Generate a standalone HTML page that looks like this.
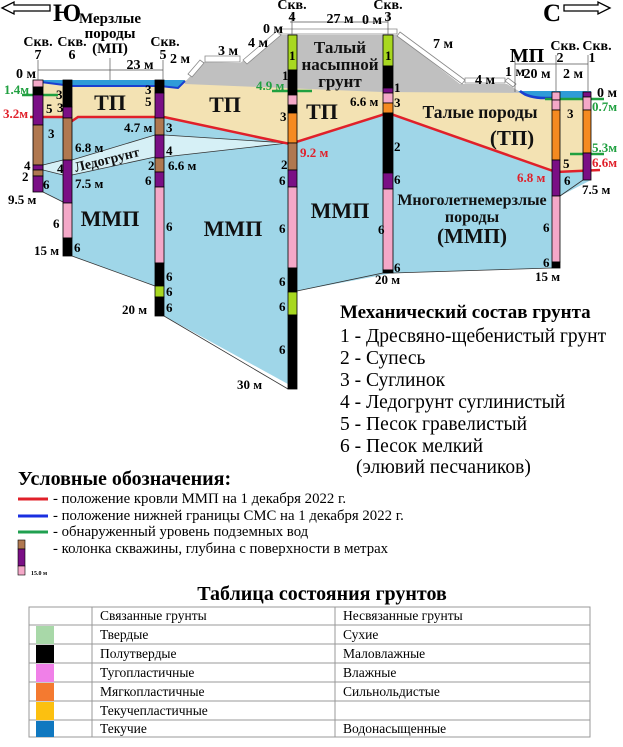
<!DOCTYPE html>
<html><head><meta charset="utf-8"><style>
html,body{margin:0;padding:0;background:#fff}
svg{display:block}
text{font-family:"Liberation Serif","Noto Serif CJK SC",serif}
.b{font-weight:bold}
</style></head><body>
<svg width="623" height="747" viewBox="0 0 623 747" xmlns="http://www.w3.org/2000/svg">
<path d="M2,8 L14,2 L14,5 L50,5 L50,11 L14,11 L14,14 Z" fill="#fff" stroke="#000" stroke-width="1.3"/>
<text x="53" y="21" class="b" font-size="25">Ю</text>
<text x="543" y="21" class="b" font-size="25">С</text>
<path d="M610,8 L598,2 L598,5 L564,5 L564,11 L598,11 L598,14 Z" fill="#fff" stroke="#000" stroke-width="1.3"/>

<polygon points="33,117 63,117 66,121 72,121 78,117 164,117 290,144 388,113 556,172 591,170 591,180 560,196 560,268 393,273 297,291 297,389 164,316 164,286 155,286 72,256 63,202 43,192 33,192" fill="#9fd6e8"/>
<polygon points="33,80 185,80 520,93 591,95 591,170 556,172 388,113 290,144 164,117 78,117 72,121 66,121 63,117 33,117" fill="#f3e2b3"/>
<polygon points="185,82 203,62 240,63 280,35 397,35 460,84 507,84 522,93 383,92 185,84" fill="#c0c0c0"/>
<polygon points="43,165 63,160 72,160 155,135 164,135 288,143 164,157 155,157 72,175 63,175 43,170" fill="#d6f0f6" stroke="#333" stroke-width="0.8"/>
<polyline points="43,192 63,202" fill="none" stroke="#333" stroke-width="0.8"/>
<polyline points="72,256 155,286" fill="none" stroke="#333" stroke-width="0.8"/>
<polyline points="164,316 288,389" fill="none" stroke="#333" stroke-width="0.8"/>
<polyline points="297,291 383,273" fill="none" stroke="#333" stroke-width="0.8"/>
<polyline points="393,273 552,268" fill="none" stroke="#333" stroke-width="0.8"/>
<polyline points="560,196 583,180" fill="none" stroke="#333" stroke-width="0.8"/>
<path d="M33,80 L185,80 L178,88 L160,86 L72,86 L33,81 Z" fill="#2f9bd8"/>
<path d="M33,81 L72,86 L160,86 L178,88 L185,81" fill="none" stroke="#1a3fd0" stroke-width="2"/>
<path d="M518,91 L591,91 L591,98 L540,98 L525,96 Z" fill="#2f9bd8"/>
<path d="M520,91 Q528,98 545,98 L560,98" fill="none" stroke="#1a3fd0" stroke-width="2.5"/>
<polyline points="30,117 63,117 66,121 72,121 78,117 164,117 290,144 388,113 556,172 600,170" fill="none" stroke="#e0202a" stroke-width="2.5"/>
<line x1="22" y1="95" x2="58" y2="95" stroke="#20a040" stroke-width="2.5"/>
<line x1="272" y1="91" x2="312" y2="91" stroke="#20a040" stroke-width="2.5"/>
<line x1="545" y1="99" x2="604" y2="99" stroke="#20a040" stroke-width="2.5"/>
<line x1="570" y1="154" x2="604" y2="154" stroke="#20a040" stroke-width="2.5"/>

<g fill="#fff" stroke="#888" stroke-width="0.8">
<polygon points="188,74 200,60 204,63 192,77"/>
<polygon points="205,56 240,56 240,62 205,62"/>
<polygon points="243,60 277,31 281,35 247,64"/>
<polygon points="279,29 397,29 397,34 279,34"/>
<polygon points="400,32 465,80 462,84 397,36"/>
<polygon points="465,78 505,78 505,83 465,83"/>
<polygon points="508,78 516,84 513,87 505,81"/>
</g>
<g stroke="#000" stroke-width="0.8">
<rect x="33" y="80" width="10" height="7" fill="#f4a8c8"/>
<rect x="33" y="87" width="10" height="8" fill="#000"/>
<rect x="33" y="95" width="10" height="30" fill="#7a0f85"/>
<rect x="33" y="125" width="10" height="40" fill="#b07850"/>
<rect x="33" y="165" width="10" height="5" fill="#7a0f85"/>
<rect x="33" y="170" width="10" height="6" fill="#b07850"/>
<rect x="33" y="176" width="10" height="16" fill="#7a0f85"/>
<rect x="63" y="80" width="9" height="27" fill="#000"/>
<rect x="63" y="107" width="9" height="11" fill="#7a0f85"/>
<rect x="63" y="118" width="9" height="42" fill="#b07850"/>
<rect x="63" y="160" width="9" height="43" fill="#7a0f85"/>
<rect x="63" y="203" width="9" height="35" fill="#f4a8c8"/>
<rect x="63" y="238" width="9" height="18" fill="#000"/>
<rect x="155" y="80" width="9" height="13" fill="#000"/>
<rect x="155" y="93" width="9" height="25" fill="#7a0f85"/>
<rect x="155" y="118" width="9" height="17" fill="#b07850"/>
<rect x="155" y="135" width="9" height="23" fill="#7a0f85"/>
<rect x="155" y="158" width="9" height="14" fill="#b07850"/>
<rect x="155" y="172" width="9" height="15" fill="#7a0f85"/>
<rect x="155" y="187" width="9" height="76" fill="#f4a8c8"/>
<rect x="155" y="263" width="9" height="23" fill="#000"/>
<rect x="155" y="286" width="9" height="11" fill="#a8d820"/>
<rect x="155" y="297" width="9" height="19" fill="#000"/>
<rect x="288" y="35" width="9" height="35" fill="#a8d820"/>
<rect x="288" y="70" width="9" height="25" fill="#000"/>
<rect x="288" y="95" width="9" height="10" fill="#f4a8c8"/>
<rect x="288" y="105" width="9" height="8" fill="#000"/>
<rect x="288" y="113" width="9" height="30" fill="#f58a20"/>
<rect x="288" y="143" width="9" height="27" fill="#b07850"/>
<rect x="288" y="170" width="9" height="17" fill="#7a0f85"/>
<rect x="288" y="187" width="9" height="81" fill="#f4a8c8"/>
<rect x="288" y="268" width="9" height="24" fill="#000"/>
<rect x="288" y="292" width="9" height="23" fill="#a8d820"/>
<rect x="288" y="315" width="9" height="74" fill="#000"/>
<rect x="383" y="35" width="10" height="31" fill="#a8d820"/>
<rect x="383" y="66" width="10" height="22" fill="#000"/>
<rect x="383" y="88" width="10" height="5" fill="#7a0f85"/>
<rect x="383" y="93" width="10" height="10" fill="#f4a8c8"/>
<rect x="383" y="103" width="10" height="10" fill="#f58a20"/>
<rect x="383" y="113" width="10" height="60" fill="#000"/>
<rect x="383" y="173" width="10" height="16" fill="#7a0f85"/>
<rect x="383" y="189" width="10" height="81" fill="#f4a8c8"/>
<rect x="383" y="270" width="10" height="3" fill="#000"/>
<rect x="552" y="92" width="8" height="8" fill="#f4a8c8"/>
<rect x="552" y="100" width="8" height="10" fill="#f4a8c8"/>
<rect x="552" y="110" width="8" height="50" fill="#f58a20"/>
<rect x="552" y="160" width="8" height="36" fill="#7a0f85"/>
<rect x="552" y="196" width="8" height="66" fill="#f4a8c8"/>
<rect x="552" y="262" width="8" height="6" fill="#000"/>
<rect x="583" y="92" width="8" height="5" fill="#7a0f85"/>
<rect x="583" y="97" width="8" height="13" fill="#f4a8c8"/>
<rect x="583" y="110" width="8" height="43" fill="#f58a20"/>
<rect x="583" y="153" width="8" height="27" fill="#7a0f85"/>
</g>
<g stroke="#555" stroke-width="0.7" fill="none">
<line x1="38" y1="70" x2="163" y2="70"/><line x1="38" y1="60" x2="38" y2="80"/><line x1="163" y1="60" x2="163" y2="80"/>
<line x1="110" y1="58" x2="110" y2="80"/>
<line x1="290" y1="22" x2="388" y2="22"/><line x1="292" y1="12" x2="292" y2="35"/><line x1="388" y1="12" x2="388" y2="35"/>
<line x1="515" y1="64" x2="588" y2="64"/><line x1="556" y1="55" x2="556" y2="92"/><line x1="588" y1="55" x2="588" y2="92"/>
<line x1="515" y1="55" x2="515" y2="92"/>
</g>
<g class="b" font-size="14" text-anchor="middle">
<text x="110" y="23" font-size="15">Мерзлые</text>
<text x="110" y="38" font-size="15">породы</text>
<text x="110" y="53" font-size="15">(МП)</text>
<text x="38" y="46">Скв.</text><text x="38" y="59">7</text>
<text x="72" y="46">Скв.</text><text x="72" y="59">6</text>
<text x="165" y="46">Скв.</text><text x="163" y="59">5</text>
<text x="292" y="9">Скв.</text><text x="292" y="21">4</text>
<text x="388" y="9">Скв.</text><text x="388" y="21">3</text>
<text x="565" y="50">Скв.</text><text x="560" y="62">2</text>
<text x="597" y="50">Скв.</text><text x="592" y="62">1</text>
<text x="140" y="69">23 м</text>
<text x="340" y="23">27 м</text>
<text x="180" y="63">2 м</text>
<text x="228" y="55">3 м</text>
<text x="258" y="47">4 м</text>
<text x="273" y="33">0 м</text>
<text x="372" y="24">0 м</text>
<text x="443" y="48">7 м</text>
<text x="485" y="84">4 м</text>
<text x="515" y="76">1 м</text>
<text x="537" y="78">20 м</text>
<text x="573" y="78">2 м</text>
<text x="527" y="62" font-size="20">МП</text>
<text x="16" y="78" text-anchor="start">0 м</text>
<text x="607" y="97">0 м</text>
</g>
<g class="b" font-size="13">
<text x="4" y="94" fill="#20a040">1.4м</text>
<text x="3" y="118" fill="#e0202a">3.2м</text>
<text x="256" y="90" fill="#20a040">4.9 м</text>
<text x="300" y="157" fill="#e0202a">9.2 м</text>
<text x="592" y="111" fill="#20a040">0.7м</text>
<text x="592" y="152" fill="#20a040">5.3м</text>
<text x="592" y="167" fill="#e0202a">6.6м</text>
<text x="517" y="182" fill="#e0202a">6.8 м</text>
</g>
<g class="b" font-size="13">
<text x="124" y="132">4.7 м</text>
<text x="75" y="152">6.8 м</text>
<text x="168" y="170">6.6 м</text>
<text x="75" y="188">7.5 м</text>
<text x="8" y="204">9.5 м</text>
<text x="34" y="255">15 м</text>
<text x="122" y="314">20 м</text>
<text x="237" y="389">30 м</text>
<text x="350" y="106">6.6 м</text>
<text x="375" y="284">20 м</text>
<text x="535" y="281">15 м</text>
<text x="582" y="194">7.5 м</text>
</g>
<g class="b" font-size="13">
<text x="56" y="99">3</text><text x="46" y="113">5</text><text x="57" y="112">3</text><text x="48" y="138">3</text>
<text x="24" y="170">4</text><text x="22" y="181">2</text><text x="43" y="189">6</text><text x="57" y="173">4</text>
<text x="53" y="228">6</text><text x="74" y="252">6</text>
<text x="145" y="94">3</text><text x="145" y="106">5</text>
<text x="166" y="132">3</text><text x="166" y="155">4</text><text x="148" y="170">2</text><text x="145" y="185">6</text>
<text x="166" y="231">6</text><text x="166" y="281">6</text><text x="166" y="296">6</text><text x="166" y="312">6</text>
<text x="289" y="60">1</text><text x="282" y="80">1</text><text x="280" y="121">3</text><text x="281" y="169">2</text><text x="279" y="185">6</text>
<text x="279" y="233">6</text><text x="279" y="286">6</text><text x="279" y="311">6</text><text x="279" y="354">6</text>
<text x="385" y="60">1</text><text x="394" y="92">1</text><text x="394" y="107">3</text><text x="394" y="151">2</text>
<text x="394" y="184">6</text><text x="378" y="234">6</text><text x="394" y="272">6</text>
<text x="567" y="118">3</text><text x="563" y="168">5</text><text x="564" y="185">6</text>
<text x="543" y="232">6</text><text x="543" y="267">6</text>
</g>
<g class="b" text-anchor="middle" fill="#111">
<text x="110" y="110" font-size="22">ТП</text>
<text x="225" y="112" font-size="22">ТП</text>
<text x="322" y="119" font-size="22">ТП</text>
<text x="110" y="226" font-size="22">ММП</text>
<text x="233" y="236" font-size="22">ММП</text>
<text x="340" y="218" font-size="22">ММП</text>
<text x="340" y="53" font-size="17">Талый</text>
<text x="340" y="70" font-size="17">насыпной</text>
<text x="340" y="87" font-size="17">грунт</text>
<text x="480" y="118" font-size="17.5">Талые породы</text>
<text x="512" y="145" font-size="21">(ТП)</text>
<text x="472" y="205" font-size="16">Многолетнемерзлые</text>
<text x="472" y="222" font-size="16">породы</text>
<text x="472" y="243" font-size="21">(ММП)</text>
<text x="108" y="164" font-size="14" transform="rotate(-14 108 164)">Ледогрунт</text>
</g>
<text x="340" y="318" class="b" font-size="19">Механический состав грунта</text>
<g font-size="19.5">
<text x="340" y="342">1 - Дресвяно-щебенистый грунт</text>
<text x="340" y="364">2 - Супесь</text>
<text x="340" y="386">3 - Суглинок</text>
<text x="340" y="408">4 - Ледогрунт суглинистый</text>
<text x="340" y="430">5 - Песок гравелистый</text>
<text x="340" y="452">6 - Песок мелкий</text>
<text x="356" y="473">(элювий песчаников)</text>
</g>
<text x="18" y="485" class="b" font-size="20">Условные обозначения:</text>
<line x1="18" y1="499" x2="48" y2="499" stroke="#e0202a" stroke-width="3"/>
<line x1="18" y1="516" x2="48" y2="516" stroke="#1a2fe0" stroke-width="3"/>
<line x1="18" y1="532" x2="48" y2="532" stroke="#20a050" stroke-width="3"/>
<g font-size="14.8">
<text x="53" y="503">- положение кровли ММП на 1 декабря 2022 г.</text>
<text x="53" y="520">- положение нижней границы СМС на 1 декабря 2022 г.</text>
<text x="53" y="536">- обнаруженный уровень подземных вод</text>
<text x="53" y="553">- колонка скважины, глубина с поверхности в метрах</text>
</g>
<g stroke="#000" stroke-width="0.6">
<rect x="18" y="540" width="7" height="9" fill="#b07850"/>
<rect x="18" y="549" width="7" height="17" fill="#7a0f85"/>
<rect x="18" y="566" width="7" height="9" fill="#f4a8c8"/>
</g>
<text x="31" y="575" font-size="6" class="b">15.0 м</text>
<text x="322" y="600" class="b" font-size="20" text-anchor="middle">Таблица состояния грунтов</text>
<g stroke="#999" stroke-width="1" fill="none">
<rect x="29" y="607" width="561" height="130"/>
<line x1="92" y1="607" x2="92" y2="737"/>
<line x1="335" y1="607" x2="335" y2="737"/>
<line x1="29" y1="625" x2="590" y2="625"/>
<line x1="29" y1="644" x2="590" y2="644"/>
<line x1="29" y1="663" x2="590" y2="663"/>
<line x1="29" y1="682" x2="590" y2="682"/>
<line x1="29" y1="701" x2="590" y2="701"/>
<line x1="29" y1="720" x2="590" y2="720"/>
</g>
<rect x="36" y="626" width="18" height="18" fill="#a8d8a8"/>
<rect x="36" y="645" width="18" height="18" fill="#000"/>
<rect x="36" y="664" width="18" height="18" fill="#f080e8"/>
<rect x="36" y="683" width="18" height="18" fill="#f47a30"/>
<rect x="36" y="702" width="18" height="18" fill="#fcc010"/>
<rect x="36" y="721" width="18" height="16" fill="#1078c0"/>
<g font-size="13.5">
<text x="100" y="620">Связанные грунты</text><text x="343" y="620">Несвязанные грунты</text>
<text x="100" y="639">Твердые</text><text x="343" y="639">Сухие</text>
<text x="100" y="658">Полутвердые</text><text x="343" y="658">Маловлажные</text>
<text x="100" y="677">Тугопластичные</text><text x="343" y="677">Влажные</text>
<text x="100" y="696">Мягкопластичные</text><text x="343" y="696">Сильнольдистые</text>
<text x="100" y="715">Текучепластичные</text>
<text x="100" y="733">Текучие</text><text x="343" y="733">Водонасыщенные</text>
</g>
</svg>
</body></html>
